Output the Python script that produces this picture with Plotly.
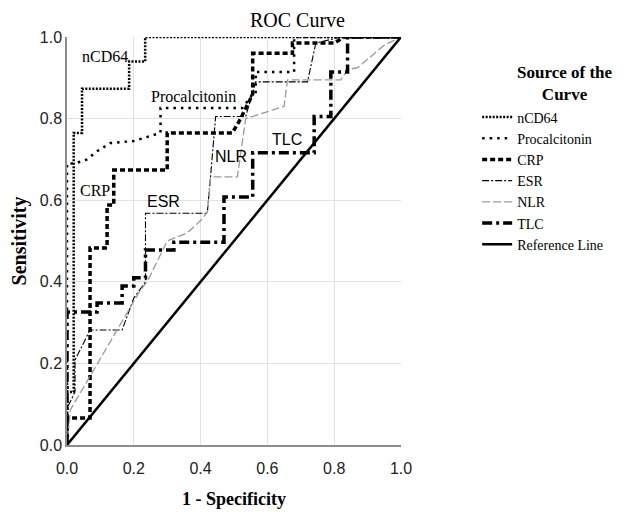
import plotly.graph_objects as go

# ---- data ----
ncd64_x = [0, 0, 0.02, 0.02, 0.045, 0.045, 0.186, 0.186, 0.234, 0.234, 1.0]
ncd64_y = [0, 0.13, 0.13, 0.765, 0.765, 0.873, 0.873, 0.94, 0.94, 1.0, 1.0]

pct_x = [0, 0, 0.024, 0.06, 0.09, 0.13, 0.2, 0.24, 0.28, 0.28, 0.525, 0.556, 0.565, 0.565, 0.68, 0.68, 1.0]
pct_y = [0, 0.69, 0.69, 0.70, 0.72, 0.74, 0.745, 0.755, 0.765, 0.826, 0.826, 0.86, 0.86, 0.914, 0.914, 1.0, 1.0]

crp_x = [0, 0, 0.069, 0.069, 0.12, 0.12, 0.14, 0.14, 0.30, 0.30, 0.495, 0.52, 0.556, 0.556, 0.675, 0.675, 0.80, 0.83, 1.0]
crp_y = [0, 0.066, 0.066, 0.483, 0.483, 0.588, 0.588, 0.674, 0.674, 0.765, 0.765, 0.80, 0.86, 0.96, 0.96, 0.985, 0.985, 1.0, 1.0]

esr_x = [0, 0, 0.024, 0.024, 0.069, 0.165, 0.2, 0.235, 0.235, 0.42, 0.43, 0.445, 0.535, 0.565, 0.72, 0.745, 0.82, 1.0]
esr_y = [0, 0.09, 0.13, 0.208, 0.282, 0.282, 0.36, 0.40, 0.568, 0.568, 0.66, 0.805, 0.805, 0.89, 0.89, 0.985, 1.0, 1.0]

nlr_x = [0, 0.01, 0.22, 0.24, 0.30, 0.36, 0.40, 0.42, 0.43, 0.51, 0.535, 0.65, 0.66, 0.82, 0.84, 0.87, 0.95, 1.0]
nlr_y = [0, 0.086, 0.38, 0.40, 0.50, 0.52, 0.55, 0.57, 0.657, 0.657, 0.80, 0.83, 0.895, 0.895, 0.92, 0.925, 0.98, 1.0]

tlc_x = [0, 0, 0.09, 0.09, 0.165, 0.165, 0.2, 0.2, 0.235, 0.235, 0.32, 0.32, 0.47, 0.47, 0.556, 0.556, 0.74, 0.74, 0.79, 0.79, 0.84, 0.84, 1.0]
tlc_y = [0, 0.326, 0.326, 0.348, 0.348, 0.39, 0.39, 0.41, 0.41, 0.478, 0.478, 0.497, 0.497, 0.608, 0.608, 0.716, 0.716, 0.805, 0.805, 0.914, 0.914, 1.0, 1.0]

ref_x = [0, 1]
ref_y = [0, 1]

tick_vals = [0, 0.2, 0.4, 0.6, 0.8, 1.0]
tick_text = ["0.0", "0.2", "0.4", "0.6", "0.8", "1.0"]

series = [
    ("nCD64", ncd64_x, ncd64_y, dict(color="black", width=2.5, dash="2px,1.5px")),
    ("Procalcitonin", pct_x, pct_y, dict(color="black", width=2.5, dash="2.5px,5px")),
    ("CRP", crp_x, crp_y, dict(color="black", width=3.5, dash="5px,3px")),
    ("ESR", esr_x, esr_y, dict(color="black", width=1.1, dash="7px,2px,2px,2px")),
    ("NLR", nlr_x, nlr_y, dict(color="#9a9a9a", width=1.3, dash="8px,3px")),
    ("TLC", tlc_x, tlc_y, dict(color="black", width=3.5, dash="10px,4px,3px,4px")),
    ("Reference Line", ref_x, ref_y, dict(color="black", width=2.5)),
]

fig = go.Figure()
for name, xs, ys, ln in series:
    fig.add_trace(go.Scatter(x=xs, y=ys, mode="lines", name=name, line=ln,
                             hoverinfo="skip"))

serif = "Liberation Serif, Times New Roman, serif"
sans = "Liberation Sans, Arial, sans-serif"

labels = [
    ("nCD64", 0.114, 0.951, serif),
    ("Procalcitonin", 0.378, 0.853, serif),
    ("CRP", 0.084, 0.625, serif),
    ("ESR", 0.29, 0.596, sans),
    ("NLR", 0.492, 0.706, sans),
    ("TLC", 0.66, 0.748, sans),
]
for txt, lx, ly, fam in labels:
    fig.add_annotation(x=lx, y=ly, text=txt, showarrow=False,
                       font=dict(family=fam, size=16, color="black"),
                       bgcolor="rgba(255,255,255,0)")

# legend heading
fig.add_annotation(x=1.491, y=0.887, xref="paper", yref="paper",
                   xanchor="center", yanchor="middle", showarrow=False,
                   text="<b>Source of the<br>Curve</b>", align="center",
                   font=dict(family=serif, size=17, color="black"))

fig.update_layout(
    width=630, height=512,
    margin=dict(l=59, r=237, t=29, b=75, autoexpand=False),
    plot_bgcolor="white", paper_bgcolor="white",
    title=dict(text="ROC Curve", x=0.69, xref="paper", xanchor="center",
               y=0.977, yanchor="middle",
               font=dict(family=serif, size=20, color="black")),
    legend=dict(
        x=1.228, xanchor="left", y=0.842, yanchor="top",
        font=dict(family=serif, size=14, color="black"),
        itemwidth=30, bgcolor="rgba(0,0,0,0)", tracegroupgap=0,
    ),
    showlegend=True,
)

fig.update_xaxes(range=[0, 1], tickvals=tick_vals, ticktext=tick_text,
                 showgrid=True, gridcolor="#e2e2e2", gridwidth=1,
                 showline=True, linecolor="#8c8c8c", linewidth=1.5,
                 zeroline=False, ticks="", ticklabelstandoff=8,
                 tickfont=dict(family=sans, size=16, color="#222"),
                 title=dict(text="<b>1 - Specificity</b>", standoff=16,
                            font=dict(family=serif, size=18, color="black")))
fig.update_yaxes(range=[0, 1], tickvals=tick_vals, ticktext=tick_text,
                 showgrid=True, gridcolor="#e2e2e2", gridwidth=1,
                 showline=True, linecolor="#8c8c8c", linewidth=1.5,
                 zeroline=False, ticks="",
                 tickfont=dict(family=sans, size=16, color="#222"),
                 title=dict(text="<b>Sensitivity</b>", standoff=12,
                            font=dict(family=serif, size=20, color="black")))

fig.write_html("out.html")
